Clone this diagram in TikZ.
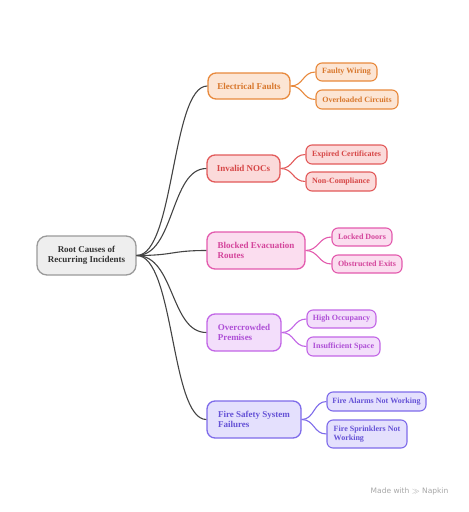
\documentclass[tikz,border=0pt]{standalone}
\usepackage{fontspec}
\setmainfont{Liberation Serif}
\newfontfamily\wmfont{DejaVu Sans}
\definecolor{oS}{HTML}{E8893C}\definecolor{oF}{HTML}{FCE5D4}\definecolor{oT}{HTML}{D8772C}
\definecolor{rS}{HTML}{E25A5A}\definecolor{rF}{HTML}{FBDADA}\definecolor{rT}{HTML}{D64646}
\definecolor{pS}{HTML}{E35AAD}\definecolor{pF}{HTML}{FBDDEF}\definecolor{pT}{HTML}{D4449B}
\definecolor{uS}{HTML}{C266E6}\definecolor{uF}{HTML}{F3DEFB}\definecolor{uT}{HTML}{AE4FD6}
\definecolor{vS}{HTML}{7E6BEA}\definecolor{vF}{HTML}{E4E0FD}\definecolor{vT}{HTML}{6552D6}
\definecolor{gS}{HTML}{9A9A9A}\definecolor{gF}{HTML}{EEEEEE}\definecolor{gT}{HTML}{333333}
\definecolor{lineC}{HTML}{444444}
\tikzset{
  box/.style={draw, rounded corners=8pt, line width=1.3pt, font=\bfseries\fontsize{9}{10}\selectfont, inner sep=0pt, align=left},
  leaf/.style={draw, rounded corners=6pt, line width=1.1pt, font=\bfseries\fontsize{8}{8.5}\selectfont, inner sep=0pt, align=left},
  cO/.style={draw=oS, fill=oF, text=oT}, cR/.style={draw=rS, fill=rF, text=rT},
  cP/.style={draw=pS, fill=pF, text=pT}, cU/.style={draw=uS, fill=uF, text=uT},
  cV/.style={draw=vS, fill=vF, text=vT},
  trunk/.style={draw=lineC, line width=1.1pt},
}
\begin{document}
\begin{tikzpicture}[x=1pt,y=-1pt]
\useasboundingbox (0,0) rectangle (469,512);
% root
\node[box, draw=gS, fill=gF, text=gT, minimum width=99pt, minimum height=39pt, align=center, rounded corners=10pt] (root) at (86.5,255.5) {Root Causes of\\Recurring Incidents};
% categories
\node[box, cO, minimum width=82pt, minimum height=26pt] (c1) at (249,86) {Electrical Faults};
\node[box, cR, minimum width=73pt, minimum height=27pt] (c2) at (243.5,168.5) {Invalid NOCs};
\node[box, cP, minimum width=98pt, minimum height=37pt] (c3) at (256,250.5) {Blocked Evacuation\\Routes};
\node[box, cU, minimum width=74pt, minimum height=37pt] (c4) at (244,332.5) {Overcrowded\\Premises};
\node[box, cV, minimum width=94pt, minimum height=37pt] (c5) at (254,419.5) {Fire Safety System\\Failures};
% leaves
\node[leaf, cO, minimum width=61pt, minimum height=18pt] (l11) at (346.5,72) {Faulty Wiring};
\node[leaf, cO, minimum width=82pt, minimum height=19pt] (l12) at (357,99.5) {Overloaded Circuits};
\node[leaf, cR, minimum width=81pt, minimum height=19pt] (l21) at (346.5,154.5) {Expired Certificates};
\node[leaf, cR, minimum width=70pt, minimum height=19pt] (l22) at (341,181.5) {Non-Compliance};
\node[leaf, cP, minimum width=60pt, minimum height=18pt] (l31) at (362,237) {Locked Doors};
\node[leaf, cP, minimum width=70pt, minimum height=18pt] (l32) at (367,264) {Obstructed Exits};
\node[leaf, cU, minimum width=69pt, minimum height=18pt] (l41) at (341.5,319) {High Occupancy};
\node[leaf, cU, minimum width=73pt, minimum height=19pt] (l42) at (343.5,346.5) {Insufficient Space};
\node[leaf, cV, minimum width=99pt, minimum height=19pt] (l51) at (376.5,401.5) {Fire Alarms Not Working};
\node[leaf, cV, minimum width=80pt, minimum height=28pt] (l52) at (367,434) {Fire Sprinklers Not\\Working};
% trunk connectors
\foreach \c in {c1,c2,c3,c4,c5}{
  \draw[trunk] (root.east) .. controls ([xshift=38pt]root.east) and ([xshift=-36pt]\c.west) .. (\c.west);
}
% leaf connectors
\foreach \c/\a/\b/\col in {c1/l11/l12/oS, c2/l21/l22/rS, c3/l31/l32/pS, c4/l41/l42/uS, c5/l51/l52/vS}{
  \draw[draw=\col, line width=1.1pt] (\c.east) .. controls ([xshift=13pt]\c.east) and ([xshift=-13pt]\a.west) .. (\a.west);
  \draw[draw=\col, line width=1.1pt] (\c.east) .. controls ([xshift=13pt]\c.east) and ([xshift=-13pt]\b.west) .. (\b.west);
}
% watermark
\node[text=black!35, font=\wmfont\fontsize{7.5}{8}\selectfont, inner sep=0pt] (wm) at (409.5,491) {Made with \raisebox{-0.5pt}{$\gg$} Napkin};
\end{tikzpicture}
\end{document}
